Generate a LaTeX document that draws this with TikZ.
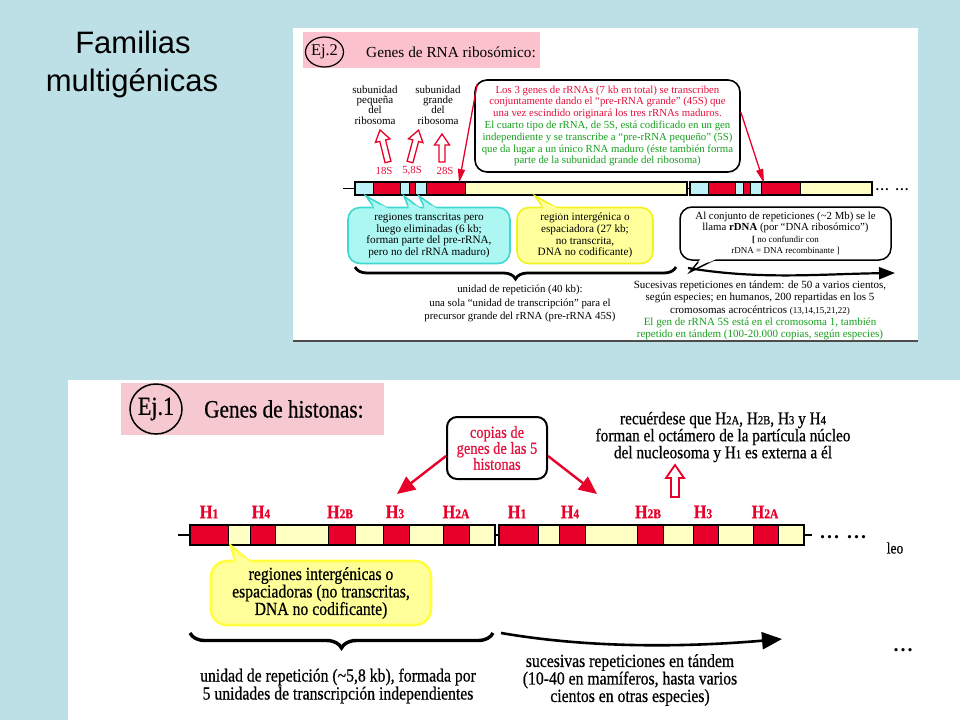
\documentclass[tikz,border=0pt]{standalone}
\usepackage{fontspec}
\setmainfont{Liberation Serif}
\newfontfamily\titlefont{Liberation Sans}
\newfontfamily\condfont[FakeStretch=0.85,FakeBold=0.6]{Liberation Serif}
\usetikzlibrary{decorations.pathreplacing,arrows.meta,calc,shapes.geometric}

\definecolor{slidebg}{HTML}{BDE0E6}
\definecolor{genered}{HTML}{E8002A}
\definecolor{genecyan}{HTML}{BDF2F8}
\definecolor{geneyel}{HTML}{FFFFC4}
\definecolor{pinkA}{HTML}{FBC2CE}
\definecolor{pinkB}{HTML}{F6C8D0}
\definecolor{txtred}{HTML}{E4103C}
\definecolor{txtgreen}{HTML}{16A01E}
\definecolor{cyanfill}{HTML}{ADF7F3}
\definecolor{cyanline}{HTML}{3ED8D0}
\definecolor{yelfill}{HTML}{FFFF9C}
\definecolor{yelline}{HTML}{F2F21E}
\definecolor{yelfillB}{HTML}{FFFF99}
\definecolor{yellineB}{HTML}{FFFF40}

\newcommand{\hsub}[2]{H{\fontsize{#1}{#1}\selectfont #2}}
\newcommand{\bubbletail}[6]{\filldraw[fill=#1,draw=#2,line width=#6] #3 -- #5 -- #4 -- cycle;}
\newcommand{\tailcover}[5]{\fill[#1] #2 -- ($#2!#5!#4$) -- ($#3!#5!#4$) -- #3 -- cycle;}
\newcommand{\hollowarrow}[8]{%
  \begin{scope}[shift={(#1,#2)},rotate=#3]
  \filldraw[fill=white,draw=genered,line width=#8,line join=miter]
    (-#5,0) -- (-#5,#7-#4) -- (-#6,#7-#4) -- (0,-#4) -- (#6,#7-#4) -- (#5,#7-#4) -- (#5,0) -- cycle;
  \end{scope}}

\tikzset{
  txt/.style={inner sep=0pt, align=center},
  redarrow/.style={genered, line width=1.3pt, -{Triangle[length=14pt,width=7pt]}},
  bigred/.style={genered, line width=2.4pt, -{Triangle[length=18pt,width=16pt]}},
  segA/.style={draw=black, line width=0.7pt},
  segB/.style={draw=black, line width=1pt},
  histlab/.style={inner sep=0pt, text=genered, font=\condfont\bfseries\fontsize{19}{19}\selectfont},
}

\begin{document}
\begin{tikzpicture}[x=1pt,y=-1pt]
\path[use as bounding box, fill=slidebg] (0,0) rectangle (960,720);

% ---------- title ----------
\node[anchor=base, inner sep=0pt, font=\titlefont\fontsize{31}{31}\selectfont] (tA) at (133,53) {Familias};
\node[anchor=base, inner sep=0pt, font=\titlefont\fontsize{31}{31}\selectfont] (tB) at (132,91) {multigénicas};

% ---------- top panel ----------
\fill[white] (293,28) rectangle (918,341);
\draw[black!70, line width=1.5pt] (293,341) -- (918,341);
\fill[pinkA] (303,32) rectangle (540,68);
\node[draw, ellipse, line width=1.2pt, minimum width=35pt, minimum height=30pt, inner sep=0pt,
      font=\fontsize{16.4}{16}\selectfont] (ejdos) at (324.5,52) {Ej.2};
\node[anchor=west, inner sep=0pt, font=\fontsize{15.3}{16}\selectfont] (ejdost) at (366,52) {Genes de RNA ribosómico:};

\node[txt, font=\fontsize{11}{10.3}\selectfont] (subp) at (375,105) {subunidad\\pequeña\\del\\ribosoma};
\node[txt, font=\fontsize{11}{10.3}\selectfont] (subg) at (438,105) {subunidad\\grande\\del\\ribosoma};

\hollowarrow{388}{162}{14}{33}{3}{7.5}{11}{1.3pt}
\hollowarrow{410}{162}{-15}{33}{3}{7.5}{11}{1.3pt}
\hollowarrow{442}{162}{0}{28}{3}{7.5}{11}{1.3pt}

\node[txt, text=txtred, font=\fontsize{10.8}{11}\selectfont] (s18) at (384,171) {18S};
\node[txt, text=txtred, font=\fontsize{10.8}{11}\selectfont] (s58) at (412,171) {5,8S};
\node[txt, text=txtred, font=\fontsize{10.8}{11}\selectfont] (s28) at (445,171) {28S};

\node[draw, fill=white, rounded corners=12pt, line width=1.6pt, minimum width=265pt, minimum height=92pt,
      txt, font=\fontsize{10.8}{11.8}\selectfont] (rrnabox) at (607.5,126)
 {\textcolor{txtred}{Los 3 genes de rRNAs (7 kb en total) se transcriben}\\
  \textcolor{txtred}{conjuntamente dando el “pre-rRNA grande” (45S) que}\\
  \textcolor{txtred}{una vez escindido originará los tres rRNAs maduros.}\\
  \textcolor{txtgreen}{El cuarto tipo de rRNA, de 5S, está codificado en un gen}\\
  \textcolor{txtgreen}{independiente y se transcribe a “pre-rRNA pequeño” (5S)}\\
  \textcolor{txtgreen}{que da lugar a un único RNA maduro (éste también forma}\\
  \textcolor{txtgreen}{parte de la subunidad grande del ribosoma)}};

% gene bar (rRNA)
\coordinate (barAs) at (343,188.5);
\coordinate (barAb) at (355,188.5);
\draw[line width=1.2pt] (barAs) -- (barAb);
\draw[line width=1.2pt] (687,188.5) -- (690,188.5);
\foreach \a/\b/\c in {355/373/genecyan,373/400/genered,400/409/genecyan,409/415/genered,415/426/genecyan,426/465/genered,465/687/geneyel,
                      690/708/genecyan,708/735/genered,735/743/genecyan,743/750/genered,750/761/genecyan,761/800/genered,800/872/geneyel}
  \filldraw[fill=\c, segA] (\a,182) rectangle (\b,195);
\draw[line width=1.2pt] (355,182) rectangle (687,195);
\draw[line width=1.2pt] (690,182) rectangle (872,195);
\node[inner sep=0pt, font=\bfseries\fontsize{13}{13}\selectfont] (dotsA) at (892,190) {.\kern1.5pt.\kern1.5pt.\hspace{7pt}.\kern1.5pt.\kern1.5pt.};

\coordinate (tipL) at (459,183);
\coordinate (tipR) at (764,183);
\draw[redarrow] ($(rrnabox.north west)+(3,5)$) -- (tipL);
\draw[redarrow] ($(rrnabox.east)+(0,-14)$) -- (tipR);

% cyan callout
\coordinate (cyT1) at (366,196);
\coordinate (cyT2) at (404,196);
\coordinate (cyT3) at (419,196);
\bubbletail{cyanfill}{cyanline}{(378,213)}{(396,213)}{(cyT1)}{1.6pt}
\bubbletail{cyanfill}{cyanline}{(411,213)}{(426,213)}{(cyT2)}{1.6pt}
\bubbletail{cyanfill}{cyanline}{(427,213)}{(443,213)}{(cyT3)}{1.6pt}
\node[draw=cyanline, fill=cyanfill, rounded corners=12pt, line width=1.6pt, minimum width=162pt, minimum height=56pt,
      txt, font=\fontsize{11.2}{11.7}\selectfont] (cyanbox) at (429,235.5)
 {regiones transcritas pero\\luego eliminadas (6 kb;\\forman parte del pre-rRNA,\\pero no del rRNA maduro)};
\tailcover{cyanfill}{(378,213)}{(396,213)}{(cyT1)}{0.45}
\tailcover{cyanfill}{(411,213)}{(426,213)}{(cyT2)}{0.45}
\tailcover{cyanfill}{(427,213)}{(443,213)}{(cyT3)}{0.45}

% yellow callout (top)
\coordinate (yeT) at (535,196);
\bubbletail{yelfill}{yelline}{(547,213)}{(566,213)}{(yeT)}{1.6pt}
\node[draw=yelline, fill=yelfill, rounded corners=12pt, line width=1.6pt, minimum width=136pt, minimum height=56pt,
      txt, font=\fontsize{11.2}{11.7}\selectfont] (yelbox) at (585,235.5)
 {región intergénica o\\espaciadora (27 kb;\\no transcrita,\\DNA no codificante)};
\tailcover{yelfill}{(547,213)}{(566,213)}{(yeT)}{0.45}

% white callout (rDNA)
\coordinate (wT) at (690,272);
\bubbletail{white}{black}{(703,256)}{(722,256)}{(wT)}{1.5pt}
\node[draw=black, fill=white, rounded corners=12pt, line width=1.5pt, minimum width=211pt, minimum height=53pt,
      txt, font=\fontsize{10.8}{11.3}\selectfont] (rdnabox) at (785.5,233.5)
 {Al conjunto de repeticiones (\textasciitilde2 Mb) se le\\
  llama \textbf{rDNA} (por “DNA ribosómico”)\\
  {\fontsize{9}{11.3}\selectfont\textbf{[} no confundir con}\\
  {\fontsize{9}{11.3}\selectfont rDNA = DNA recombinante ]}};
\tailcover{white}{(703,256)}{(722,256)}{(wT)}{0.4}

% brace and arrow (top)
\draw[decorate, decoration={brace, mirror, amplitude=12pt}, line width=2.8pt] (355,267) -- (676,267);
\coordinate (arrAs) at (688,268);
\coordinate (arrAt) at (895,273);
\draw[line width=2.2pt, -{Triangle[length=16pt,width=12pt]}] (arrAs) .. controls (760,280) and (820,274) .. (arrAt);

\node[txt, font=\fontsize{10.8}{13.3}\selectfont] (unitA) at (520,303.5)
 {unidad de repetición (40 kb):\\una sola “unidad de transcripción” para el\\precursor grande del rRNA (pre-rRNA 45S)};
\node[txt, font=\fontsize{11}{12.3}\selectfont] (tandA) at (760,310.5)
 {Sucesivas repeticiones en tándem: de 50 a varios cientos,\\
  según especies; en humanos, 200 repartidas en los 5\\
  cromosomas acrocéntricos {\fontsize{9}{12.3}\selectfont(13,14,15,21,22)}\\
  \textcolor{txtgreen}{El gen de rRNA 5S está en el cromosoma 1, también}\\
  \textcolor{txtgreen}{repetido en tándem (100-20.000 copias, según especies)}};

% ---------- bottom panel ----------
\fill[white] (68,380) rectangle (960,720);
\fill[pinkB] (121,383) rectangle (384,435);
\node[draw, ellipse, line width=1.5pt, minimum width=52pt, minimum height=50pt, inner sep=0pt,
      font=\condfont\fontsize{26}{26}\selectfont] (ejuno) at (156,409) {Ej.1};
\node[anchor=west, inner sep=0pt, font=\condfont\fontsize{25}{25}\selectfont] (ejunot) at (204,409) {Genes de histonas:};

\node[draw, fill=white, rounded corners=10pt, line width=2pt, minimum width=100pt, minimum height=62pt,
      txt, text=txtred, font=\condfont\fontsize{17}{16}\selectfont] (copias) at (497,448)
 {copias de\\genes de las 5\\histonas};
\coordinate (cL) at (397,494);
\coordinate (cR) at (597,494);
\draw[bigred] ($(copias.west)+(0,8)$) -- (cL);
\draw[bigred] ($(copias.east)+(0,8)$) -- (cR);

\node[txt, font=\condfont\fontsize{18}{17}\selectfont] (recu) at (723,437)
 {recuérdese que \hsub{12.5}{2A}, \hsub{12.5}{2B}, \hsub{12.5}{3} y \hsub{12.5}{4}\\
  forman el octámero de la partícula núcleo\\
  del nucleosoma y \hsub{12.5}{1} es externa a él};
\hollowarrow{675}{497}{0}{32}{4}{9}{13}{1.8pt}

% histone labels
\foreach \x/\s [count=\i] in {209/1,261/4,340/2B,395/3,456/2A,517/1,570/4,648/2B,703/3,765/2A}
  \node[histlab] (hl\i) at (\x,512) {\hsub{13.5}{\s}};

% histone gene bar
\coordinate (barBs) at (178,535);
\coordinate (barBb) at (190,535);
\draw[line width=1.5pt] (barBs) -- (barBb);
\draw[line width=1.5pt] (495,535) -- (499,535);
\draw[line width=1.5pt] (804,535) -- (812,535);
\foreach \a/\b/\c in {190/228/genered,228/250/geneyel,250/275/genered,275/328/geneyel,328/355/genered,355/383/geneyel,383/409/genered,409/443/geneyel,443/469/genered,469/495/geneyel,
                      499/538/genered,538/559/geneyel,559/585/genered,585/637/geneyel,637/663/genered,663/693/geneyel,693/718/genered,718/753/geneyel,753/778/genered,778/804/geneyel}
  \filldraw[fill=\c, segB] (\a,525) rectangle (\b,545);
\draw[line width=1.8pt] (190,525) rectangle (495,545);
\draw[line width=1.8pt] (499,525) rectangle (804,545);
\node[inner sep=0pt, font=\bfseries\fontsize{20}{20}\selectfont] (dotsB) at (843,537) {.\kern2pt.\kern2pt.\hspace{8pt}.\kern2pt.\kern2pt.};
\node[inner sep=0pt, font=\condfont\fontsize{16}{16}\selectfont] (leo) at (895,548) {leo};

% yellow callout (bottom)
\coordinate (byT) at (231,546);
\bubbletail{yelfillB}{yellineB}{(237,567)}{(256,567)}{(byT)}{2.6pt}
\node[draw=yellineB, fill=yelfillB, rounded corners=16pt, line width=2.6pt, minimum width=220pt, minimum height=64pt,
      txt, font=\condfont\fontsize{18.5}{17.5}\selectfont] (byelbox) at (321,593)
 {regiones intergénicas o\\espaciadoras (no transcritas,\\DNA no codificante)};
\tailcover{yelfillB}{(237,567)}{(256,567)}{(byT)}{0.45}

% brace and arrow (bottom)
\draw[decorate, decoration={brace, mirror, amplitude=15pt}, line width=3.4pt] (190,633) -- (493,633);
\coordinate (arrBs) at (501,633);
\coordinate (arrBt) at (782,639);
\draw[line width=2.6pt, -{Triangle[length=20pt,width=17pt]}] (arrBs) .. controls (600,650) and (700,646) .. (arrBt);

\node[txt, font=\condfont\fontsize{18.5}{18}\selectfont] (unitB) at (338,686)
 {unidad de repetición (\textasciitilde5,8 kb), formada por\\5 unidades de transcripción independientes};
\node[txt, font=\condfont\fontsize{18.5}{17.5}\selectfont] (tandB) at (630,680)
 {sucesivas repeticiones en tándem\\(10-40 en mamíferos, hasta varios\\cientos en otras especies)};
\node[inner sep=0pt, font=\bfseries\fontsize{20}{20}\selectfont] (dotsC) at (903,650) {.\kern2pt.\kern2pt.};
\end{tikzpicture}
\end{document}
